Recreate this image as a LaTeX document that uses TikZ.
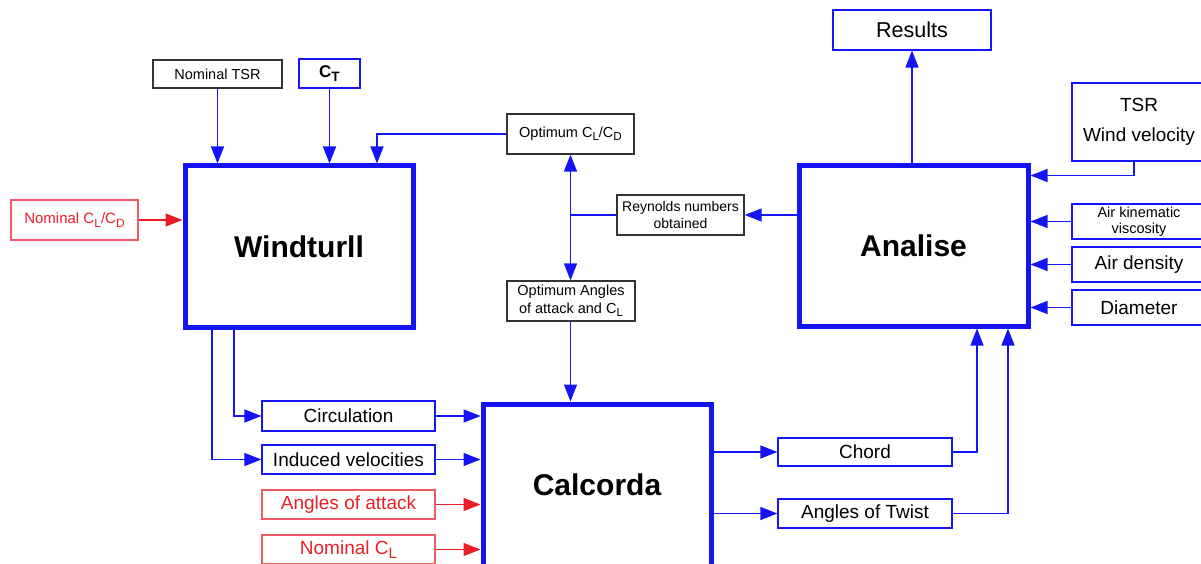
\documentclass[tikz,border=0pt]{standalone}
\usepackage{fontspec}
\setmainfont{Liberation Sans}
\usetikzlibrary{arrows.meta}
\definecolor{lineblue}{RGB}{20,20,245}
\definecolor{linered}{RGB}{235,30,40}
\definecolor{boxred}{RGB}{240,90,100}
\newcommand{\idx}[1]{\raisebox{-0.45ex}{\scalebox{0.8}{#1}}}

\tikzset{
  box/.style={draw=lineblue, line width=1.2pt, inner sep=0pt, align=center, font=\fontsize{19}{23}\selectfont},
  blackbox/.style={box, draw=black!80, font=\fontsize{14.5}{18}\selectfont},
  redbox/.style={box, draw=boxred, text=linered},
  bigbox/.style={draw=lineblue, line width=5pt, inner sep=0pt, minimum width=228, minimum height=161, font=\fontsize{30}{34}\selectfont\bfseries},
  arr/.style={draw=lineblue, line width=1.3pt, -{Triangle[length=17pt,width=13pt]}},
  redarr/.style={arr, draw=linered, fill=linered}
}

\begin{document}
\begin{tikzpicture}[x=1pt, y=-1pt]
    \useasboundingbox (0,0) rectangle (1201,564);

    % main blocks
    \node [bigbox] (wind) at (299,246.5) {Windturll};
    \node [bigbox, minimum width=229, minimum height=160] (analise) at (913.5,246) {Analise};
    \node [bigbox, minimum height=162] (calc) at (597,485) {Calcorda};

    % inputs of Windturll
    \node [blackbox, minimum width=129, minimum height=28] (ntsr) at (217.5,74) {Nominal TSR};
    \node [box, minimum width=61, minimum height=29, font=\fontsize{17}{20}\selectfont\bfseries] (ct) at (329.5,73.5) {C\idx{T}};
    \node [redbox, minimum width=127, minimum height=40, font=\fontsize{15}{18}\selectfont] (ncd) at (74.5,220) {Nominal C\idx{L}/C\idx{D}};

    % airfoil data
    \node [blackbox, minimum width=127, minimum height=40] (optcd) at (570.5,134) {Optimum C\idx{L}/C\idx{D}};
    \node [blackbox, minimum width=127, minimum height=40, font=\fontsize{14}{16.5}\selectfont] (reyn) at (680.5,215) {Reynolds numbers\\obtained};
    \node [blackbox, minimum width=128, minimum height=40, font=\fontsize{14.5}{17.5}\selectfont] (optang) at (571,301) {Optimum Angles\\of attack and C\idx{L}};

    % inputs of Calcorda
    \node [box, minimum width=173, minimum height=30] (circ) at (348.5,416) {Circulation};
    \node [box, minimum width=173, minimum height=29] (ind) at (348.5,459.5) {Induced velocities};
    \node [redbox, minimum width=173, minimum height=29] (aoa) at (348.5,504.5) {Angles of attack};
    \node [redbox, minimum width=173, minimum height=29] (ncl) at (348.5,549.5) {Nominal C\idx{L}};

    % outputs of Calcorda
    \node [box, minimum width=174, minimum height=28] (chord) at (865,452) {Chord};
    \node [box, minimum width=174, minimum height=29] (twist) at (865,513.5) {Angles of Twist};

    % inputs and output of Analise
    \node [box, minimum width=158, minimum height=40, font=\fontsize{21.5}{25}\selectfont] (res) at (912,30) {Results};
    \node [box, minimum width=134, minimum height=78] (tsr) at (1139,122) {TSR\\[7pt]Wind velocity};
    \node [box, minimum width=134, minimum height=35, font=\fontsize{14.5}{16}\selectfont] (airk) at (1139,221.5) {Air kinematic\\viscosity};
    \node [box, minimum width=134, minimum height=35] (dens) at (1139,264.5) {Air density};
    \node [box, minimum width=134, minimum height=35] (diam) at (1139,307.5) {Diameter};

    % connectors
    \draw [arr] (ntsr) -- (ntsr |- wind.north);
    \draw [arr] (ct) -- (ct |- wind.north);
    \draw [arr] (optcd.west) -| ([xshift=78pt]wind.north);
    \draw [redarr] (ncd.east) -- (ncd.east -| wind.west);

    \draw [arr, {Triangle[length=17pt,width=13pt]}-{Triangle[length=17pt,width=13pt]}] (optcd.south) -- (optcd.south |- optang.north);
    \draw [draw=lineblue, line width=1.3pt] (reyn.west) -- (reyn.west -| optcd.south);
    \draw [arr] (analise.west |- reyn) -- (reyn.east);
    \draw [arr] (optcd.south |- optang.south) -- (optcd.south |- calc.north);

    \draw [arr] ([xshift=-65pt]wind.south) |- (circ.west);
    \draw [arr] ([xshift=-87pt]wind.south) |- (ind.west);
    \draw [arr] (circ.east) -- (circ.east -| calc.west);
    \draw [arr] (ind.east) -- (ind.east -| calc.west);
    \draw [redarr] (aoa.east) -- (aoa.east -| calc.west);
    \draw [redarr] (ncl.east) -- (ncl.east -| calc.west);

    \draw [arr] (calc.east |- chord) -- (chord.west);
    \draw [arr] (calc.east |- twist) -- (twist.west);
    \draw [arr] (chord.east) -| ([xshift=63.5pt]analise.south);
    \draw [arr] (twist.east) -| ([xshift=94.5pt]analise.south);

    \draw [arr] (analise.north -| res) -- (res.south);
    \draw [arr] ([xshift=-5pt]tsr.south) |- ([yshift=-12pt]analise.north east);
    \draw [arr] (airk.west) -- (airk.west -| analise.east);
    \draw [arr] (dens.west) -- (dens.west -| analise.east);
    \draw [arr] (diam.west) -- (diam.west -| analise.east);
\end{tikzpicture}
\end{document}
